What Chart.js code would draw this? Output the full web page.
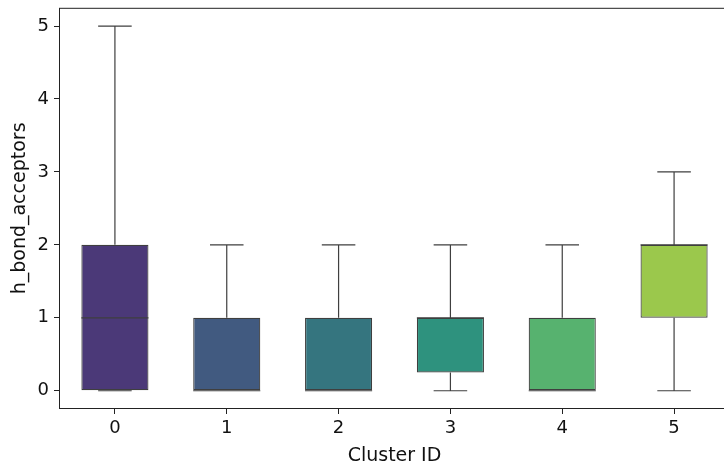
<!DOCTYPE html>
<html>
<head>
<meta charset="utf-8">
<script src="https://cdn.jsdelivr.net/npm/chart.js@4.4.1/dist/chart.umd.min.js"></script>
<style>
  body { margin: 0; overflow: hidden; background: #fff; }
  #wrap { position: relative; top: -8px; width: 730px; height: 473px; }
</style>
</head>
<body>
<div id="wrap"><canvas id="boxChart"></canvas></div>
<script>
const clusters = ["0", "1", "2", "3", "4", "5"]
const whiskerLow = [0, 0, 0, 0, 0, 0]
const q1 = [0, 0, 0, 0.25, 0, 1]
const medians = [1, 0, 0, 1, 0, 2]
const q3 = [2, 1, 1, 1, 1, 2]
const whiskerHigh = [5, 2, 2, 2, 2, 3]
const yTicks = [0, 1, 2, 3, 4, 5]
const boxColors = ["#4b3978", "#415a80", "#35757f", "#2e927e", "#57b26f", "#9bc84c"]

const lineColor = "#3f3f3f"
const ctx = document.getElementById("boxChart")

// whiskers, caps, medians and frame drawn through the chart scales
const boxExtras = {
    id: "boxExtras",
    afterDatasetsDraw(chart) {
        const c = chart.ctx
        const x = chart.scales.x
        const y = chart.scales.y
        const step = x.getPixelForValue(1) - x.getPixelForValue(0)
        c.save()
        c.strokeStyle = lineColor
        c.lineWidth = 1.2
        for (let i = 0; i < clusters.length; i++) {
            const cx = x.getPixelForValue(i)
            const capHalf = step * 0.15
            const boxHalf = step * 0.3
            c.beginPath()
            c.moveTo(cx, y.getPixelForValue(q3[i]))
            c.lineTo(cx, y.getPixelForValue(whiskerHigh[i]))
            c.moveTo(cx, y.getPixelForValue(q1[i]))
            c.lineTo(cx, y.getPixelForValue(whiskerLow[i]))
            c.moveTo(cx - capHalf, y.getPixelForValue(whiskerHigh[i]))
            c.lineTo(cx + capHalf, y.getPixelForValue(whiskerHigh[i]))
            c.moveTo(cx - capHalf, y.getPixelForValue(whiskerLow[i]))
            c.lineTo(cx + capHalf, y.getPixelForValue(whiskerLow[i]))
            c.moveTo(cx - boxHalf, y.getPixelForValue(medians[i]))
            c.lineTo(cx + boxHalf, y.getPixelForValue(medians[i]))
            c.stroke()
        }
        const a = chart.chartArea
        c.strokeStyle = "#222"
        c.lineWidth = 1
        c.strokeRect(a.left + 0.5, a.top + 0.5, a.right - a.left - 1, a.bottom - a.top - 1)
        c.restore()
    }
}

const boxChart = new Chart(ctx, {
    type: "bar",
    data: {
        labels: clusters,
        datasets: [{
            data: clusters.map((_, i) => [q1[i], q3[i]]),
            backgroundColor: boxColors,
            borderColor: lineColor,
            borderWidth: 1.2,
            borderSkipped: false,
            barPercentage: 0.6,
            categoryPercentage: 1.0
        }]
    },
    options: {
        responsive: true,
        maintainAspectRatio: false,
        animation: false,
        plugins: {
            legend: { display: false },
            tooltip: { enabled: false }
        },
        scales: {
            x: {
                offset: true,
                grid: { display: true, drawOnChartArea: false, offset: false, tickLength: 5, color: "#222" },
                border: { display: false },
                ticks: { color: "#111", font: { family: "DejaVu Sans", size: 18 }, padding: 4 },
                title: { display: true, text: "Cluster ID", color: "#111", font: { family: "DejaVu Sans", size: 19 }, padding: { top: 0, bottom: -2 } },
                afterFit: (s) => { s.height = 56 }
            },
            y: {
                min: -0.25,
                max: 5.25,
                afterBuildTicks: (s) => { s.ticks = yTicks.map(v => ({ value: v })) },
                grid: { display: true, drawOnChartArea: false, tickLength: 5, color: "#222" },
                border: { display: false },
                ticks: { color: "#111", font: { family: "DejaVu Sans", size: 18 }, padding: 5 },
                title: { display: true, text: "h_bond_acceptors", color: "#111", font: { family: "DejaVu Sans", size: 19 }, padding: { top: 9, bottom: 0 } },
                afterFit: (s) => { s.width = 59 }
            }
        }
    },
    plugins: [boxExtras]
})
</script>
</body>
</html>
